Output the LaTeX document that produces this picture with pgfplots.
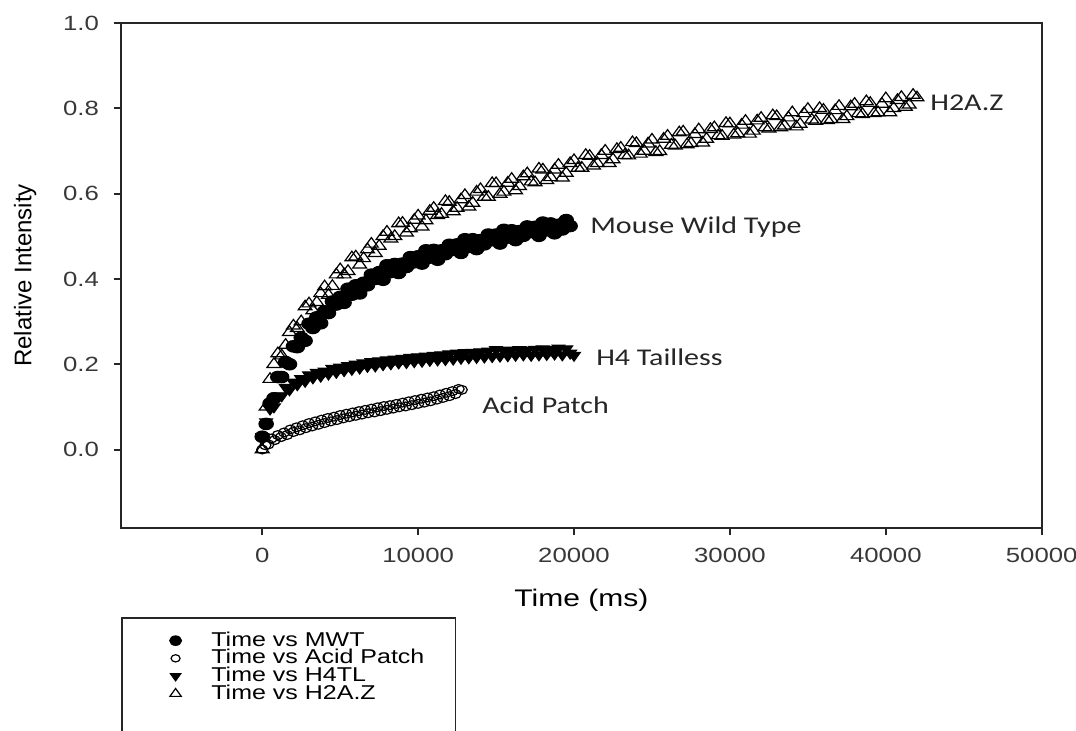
\documentclass[border=0pt]{standalone}
\usepackage{fontspec}
\setmainfont{Liberation Sans}[FakeStretch=1.25]
\newfontfamily\plainarial{Liberation Sans}
\newfontfamily\calib{Carlito}[FakeStretch=1.25]
\usepackage{pgfplots}
\pgfplotsset{compat=1.18}
\begin{document}
\begin{tikzpicture}
\begin{axis}[
  at={(0,0)}, anchor=south west,
  scale only axis, width=460.35pt, height=252.5pt,
  xmin=-9060, xmax=50000, ymin=-0.184, ymax=1.0,
  axis line style={line width=1pt, color=black!85},
  tick style={line width=1pt, color=black!85},
  tick align=outside, tick pos=left, major tick length=3.5pt,
  xtick={0,10000,20000,30000,40000,50000},
  ytick={0,0.2,0.4,0.6,0.8,1.0},
  scaled x ticks=false, scaled y ticks=false,
  /pgf/number format/assume math mode=true,
  x tick label style={/pgf/number format/set thousands separator={}, yshift=-3pt},
  y tick label style={/pgf/number format/fixed, /pgf/number format/fixed zerofill, /pgf/number format/precision=1, xshift=-4pt},
  tick label style={font=\fontsize{10.3}{12}\selectfont, text=black!78},
  xlabel={Time (ms)},
  xlabel style={font=\fontsize{12}{14}\selectfont, at={(axis description cs:0.5,-0.1426)}, anchor=center},
  ylabel={Relative Intensity},
  ylabel style={font=\plainarial\fontsize{12}{14}\selectfont, at={(axis description cs:-0.1042,0.5)}, anchor=center},
  legend style={at={(axis description cs:0,-0.1762)}, anchor=north west, draw=black!85, line width=0.8pt,
    inner xsep=10pt, inner ysep=7pt, font=\fontsize{10}{10}\selectfont, row sep=0pt,
    nodes={inner xsep=0pt, inner ysep=0pt, text height=7.2pt, text depth=1.65pt}},
  legend cell align=left,
  legend image code/.code={\path (0pt,0pt) (34pt,0pt); \path[#1, every mark/.append style={scale=0.82}] plot[only marks] coordinates {(16.5pt,0pt)};},
]
\addplot[only marks, mark=*, mark size=2.9pt, mark options={xscale=1.25, fill=black, draw=black, line width=0.5pt}] coordinates {
(0,0.03) (250,0.06) (500,0.108) (750,0.12) (1000,0.17) (1250,0.17) (1500,0.205) (1750,0.20)
(2000,0.242) (2250,0.24) (2500,0.262) (2750,0.255) (3000,0.295) (3250,0.285) (3500,0.31) (3750,0.296)
(4000,0.324) (4250,0.32) (4500,0.347) (4750,0.34) (5000,0.358) (5250,0.344) (5500,0.377) (5750,0.363)
(6000,0.385) (6250,0.366) (6500,0.391) (6750,0.385) (7000,0.41) (7250,0.40) (7500,0.416) (7750,0.398)
(8000,0.432) (8250,0.416) (8500,0.435) (8750,0.414) (9000,0.436) (9250,0.428) (9500,0.451) (9750,0.439)
(10000,0.453) (10250,0.436) (10500,0.467) (10750,0.45) (11000,0.468) (11250,0.445) (11500,0.467) (11750,0.458)
(12000,0.48) (12250,0.468) (12500,0.481) (12750,0.461) (13000,0.493) (13250,0.475) (13500,0.493) (13750,0.47)
(14000,0.491) (14250,0.481) (14500,0.504) (14750,0.491) (15000,0.504) (15250,0.483) (15500,0.515) (15750,0.497)
(16000,0.514) (16250,0.491) (16500,0.512) (16750,0.501) (17000,0.523) (17250,0.51) (17500,0.522) (17750,0.501)
(18000,0.532) (18250,0.514) (18500,0.53) (18750,0.507) (19000,0.527) (19250,0.516) (19500,0.538) (19750,0.524)
};
\addlegendentry{Time vs MWT}
\addplot[only marks, mark=o, mark size=2.2pt, mark options={xscale=1.25, draw=black, line width=0.6pt}] coordinates {
(0,0.0) (200,0.01) (400,0.012) (600,0.026) (800,0.022) (1000,0.034) (1200,0.029) (1400,0.04)
(1600,0.034) (1800,0.047) (2000,0.041) (2200,0.052) (2400,0.045) (2600,0.057) (2800,0.05) (3000,0.062)
(3200,0.054) (3400,0.066) (3600,0.058) (3800,0.07) (4000,0.062) (4200,0.074) (4400,0.066) (4600,0.077)
(4800,0.069) (5000,0.081) (5200,0.073) (5400,0.084) (5600,0.076) (5800,0.087) (6000,0.079) (6200,0.09)
(6400,0.082) (6600,0.093) (6800,0.085) (7000,0.096) (7200,0.087) (7400,0.099) (7600,0.09) (7800,0.102)
(8000,0.093) (8200,0.104) (8400,0.096) (8600,0.107) (8800,0.099) (9000,0.11) (9200,0.101) (9400,0.113)
(9600,0.104) (9800,0.116) (10000,0.107) (10200,0.119) (10400,0.11) (10600,0.122) (10800,0.113) (11000,0.125)
(11200,0.117) (11400,0.129) (11600,0.121) (11800,0.133) (12000,0.125) (12200,0.137) (12400,0.13) (12600,0.142)
(12800,0.14)
};
\addlegendentry{Time vs Acid Patch\kern5.5pt}
\addplot[only marks, mark=triangle*, mark size=3pt, mark options={rotate=180, xscale=1.25, fill=black, draw=black, line width=0.5pt}] coordinates {
(0,0.03) (250,0.065) (500,0.095) (750,0.1) (1000,0.125) (1250,0.126) (1500,0.146) (1750,0.14)
(2000,0.158) (2250,0.152) (2500,0.166) (2750,0.16) (3000,0.175) (3250,0.168) (3500,0.181) (3750,0.172)
(4000,0.184) (4250,0.177) (4500,0.19) (4750,0.181) (5000,0.193) (5250,0.185) (5500,0.197) (5750,0.188)
(6000,0.2) (6250,0.191) (6500,0.203) (6750,0.195) (7000,0.206) (7250,0.196) (7500,0.208) (7750,0.199)
(8000,0.21) (8250,0.201) (8500,0.212) (8750,0.203) (9000,0.214) (9250,0.204) (9500,0.216) (9750,0.206)
(10000,0.217) (10250,0.207) (10500,0.219) (10750,0.209) (11000,0.221) (11250,0.21) (11500,0.222) (11750,0.211)
(12000,0.224) (12250,0.212) (12500,0.226) (12750,0.214) (13000,0.227) (13250,0.215) (13500,0.228) (13750,0.216)
(14000,0.229) (14250,0.217) (14500,0.231) (14750,0.218) (15000,0.234) (15250,0.219) (15500,0.232) (15750,0.22)
(16000,0.233) (16250,0.221) (16500,0.234) (16750,0.222) (17000,0.233) (17250,0.221) (17500,0.235) (17750,0.222)
(18000,0.236) (18250,0.223) (18500,0.234) (18750,0.224) (19000,0.238) (19250,0.222) (19500,0.236) (19750,0.226)
(20000,0.221)
};
\addlegendentry{Time vs H4TL}
\addplot[only marks, mark=triangle, mark size=3.2pt, mark options={xscale=1.25, draw=black, line width=0.6pt}] coordinates {
(0,0.0) (250,0.1) (500,0.165) (750,0.2) (1000,0.225) (1500,0.245) (2000,0.29) (2500,0.3)
(3000,0.342) (3500,0.345) (4000,0.382) (4500,0.383) (5000,0.422) (5500,0.418) (6000,0.452) (6500,0.448)
(7000,0.482) (7500,0.477) (8000,0.51) (8500,0.5) (9000,0.531) (9500,0.518) (10000,0.548) (10500,0.537)
(11000,0.566) (11500,0.552) (12000,0.58) (12500,0.566) (13000,0.596) (13500,0.578) (14000,0.61) (14500,0.592)
(15000,0.624) (15500,0.604) (16000,0.634) (16500,0.617) (17000,0.647) (17500,0.626) (18000,0.656) (18500,0.638)
(19000,0.667) (19500,0.648) (20000,0.678) (20500,0.66) (21000,0.688) (21500,0.671) (22000,0.7) (22500,0.68)
(23000,0.707) (23500,0.689) (24000,0.718) (24500,0.7) (25000,0.726) (25500,0.699) (26000,0.735) (26500,0.712)
(27000,0.745) (27500,0.718) (28000,0.75) (28500,0.728) (29000,0.755) (29500,0.735) (30000,0.764) (30500,0.741)
(31000,0.77) (31500,0.747) (32000,0.777) (32500,0.752) (33000,0.781) (33500,0.759) (34000,0.79) (34500,0.763)
(35000,0.798) (35500,0.77) (36000,0.796) (36500,0.774) (37000,0.805) (37500,0.781) (38000,0.81) (38500,0.786)
(39000,0.812) (39500,0.79) (40000,0.823) (40500,0.8) (41000,0.826) (41500,0.808) (42000,0.825)
(1250,0.22) (1750,0.275) (2250,0.284) (2750,0.335) (3250,0.326) (3750,0.366) (4250,0.362) (4750,0.41)
(5250,0.41) (5750,0.45) (6250,0.433) (6750,0.469) (7250,0.46) (7750,0.5) (8250,0.494) (8750,0.53)
(9250,0.508) (9750,0.538) (10250,0.522) (10750,0.559) (11250,0.549) (11750,0.582) (12250,0.558) (12750,0.586)
(13250,0.569) (13750,0.604) (14250,0.592) (14750,0.624) (15250,0.599) (15750,0.625) (16250,0.607) (16750,0.64)
(17250,0.628) (17750,0.658) (18250,0.631) (18750,0.656) (19250,0.637) (19750,0.671) (20250,0.66) (20750,0.69)
(21250,0.665) (21750,0.69) (22250,0.671) (22750,0.704) (23250,0.69) (23750,0.72) (24250,0.693) (24750,0.717)
(25250,0.697) (25750,0.728) (26250,0.714) (26750,0.743) (27250,0.715) (27750,0.739) (28250,0.719) (28750,0.751)
(29250,0.736) (29750,0.765) (30250,0.738) (30750,0.761) (31250,0.74) (31750,0.771) (32250,0.755) (32750,0.783)
(33250,0.755) (33750,0.778) (34250,0.757) (34750,0.788) (35250,0.773) (35750,0.8) (36250,0.772) (36750,0.795)
(37250,0.774) (37750,0.804) (38250,0.788) (38750,0.816) (39250,0.788) (39750,0.81) (40250,0.79) (40750,0.819)
(41250,0.803) (41750,0.831)
};
\addlegendentry{Time vs H2A.Z}
\addlegendimage{empty legend}\addlegendentry{}
\addlegendimage{empty legend}\addlegendentry{}
\node[anchor=west, inner sep=0pt, font=\calib\fontsize{12}{14}\selectfont, text=black!85] at (axis cs:42830,0.812) {H2A.Z};
\node[anchor=west, inner sep=0pt, font=\calib\fontsize{12}{14}\selectfont, text=black!85] at (axis cs:21020,0.522) {Mouse Wild Type};
\node[anchor=west, inner sep=0pt, font=\calib\fontsize{12}{14}\selectfont, text=black!85] at (axis cs:21400,0.217) {H4 Tailless};
\node[anchor=west, inner sep=0pt, font=\calib\fontsize{12}{14}\selectfont, text=black!85] at (axis cs:14090,0.104) {Acid Patch};
\end{axis}
\pgfresetboundingbox
\useasboundingbox (-60.5pt,-101pt) rectangle (477.5pt,264pt);
\end{tikzpicture}
\end{document}
